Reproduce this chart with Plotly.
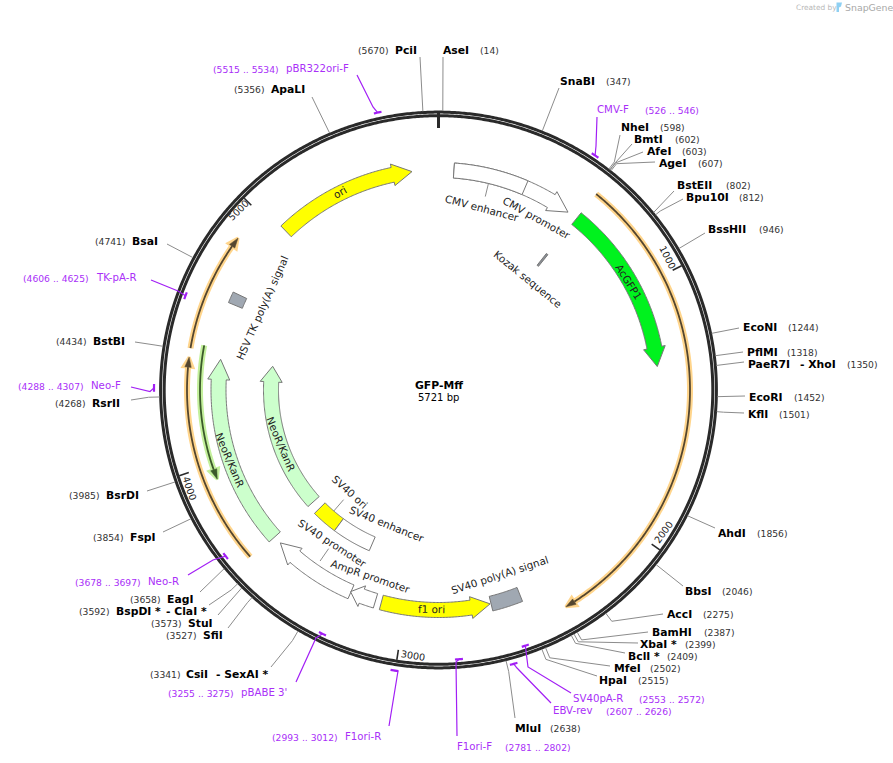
"""Plasmid map of GFP-Mff, drawn from base pair positions."""
import numpy as np
import plotly.graph_objects as go

TOTAL_BP = 5721
plasmid_name = 'GFP-Mff'

# restriction sites
site_names = ['AseI', 'SnaBI', 'NheI', 'BmtI', 'AfeI', 'AgeI', 'BstEII', 'Bpu10I', 'BssHII',
              'EcoNI', 'PflMI', 'PaeR7I', 'EcoRI', 'KflI', 'AhdI', 'BbsI', 'AccI', 'BamHI',
              'XbaI *', 'BclI *', 'MfeI', 'HpaI', 'MluI', 'CsiI', 'SfiI', 'StuI', 'BspDI *',
              'EagI', 'FspI', 'BsrDI', 'RsrII', 'BstBI', 'BsaI', 'ApaLI', 'PciI']
site_positions = [14, 347, 598, 602, 603, 607, 802, 812, 946, 1244, 1318, 1350, 1452, 1501,
                  1856, 2046, 2275, 2387, 2399, 2409, 2502, 2515, 2638, 3341, 3527, 3573,
                  3592, 3658, 3854, 3985, 4268, 4434, 4741, 5356, 5670]
second_names = ['- XhoI', '- ClaI *', '- SexAI *']

# primers
primer_names = ['CMV-F', 'SV40pA-R', 'EBV-rev', 'F1ori-F', 'F1ori-R', "pBABE 3'", 'Neo-R',
                'Neo-F', 'TK-pA-R', 'pBR322ori-F']
primer_starts = [526, 2553, 2607, 2781, 2993, 3255, 3678, 4288, 4606, 5515]
primer_ends = [546, 2572, 2626, 2802, 3012, 3275, 3697, 4307, 4625, 5534]

# features
arrow_names = ['ori', 'CMV', 'AcGFP1', 'NeoR/KanR', 'NeoR/KanR', 'SV40 promoter',
               'AmpR promoter', 'f1 ori']
arrow_starts = [5024, 64, 617, 3625, 3627, 3233, 3125, 3100]
arrow_ends = [5611, 573, 1333, 4418, 4420, 3591, 3235, 2645]
arrow_heads = [5530, 490, 1254, 4334, 4335, 3508, 3185, 2725]
block_names = ['CMV enhancer', 'Kozak sequence', 'SV40 poly(A) signal', 'SV40 ori',
               'SV40 enhancer', 'HSV TK poly(A) signal']
block_starts = [64, 609, 2516, 3440, 3231, 4650]
block_ends = [368, 619, 2641, 3578, 3440, 4696]
orange_starts = [617, 3631, 4443]
orange_ends = [2377, 4410, 4881]
green_starts = [4462]
green_ends = [3942]
scale_ticks = [1000, 2000, 3000, 4000, 5000]

# layout of the picture, all in page pixels
CX, CY = 438.5, 390
site_name_xy = [(443, 50), (560, 81), (621, 127), (634, 139), (647, 151), (659, 163), (677, 185),
                (686, 197), (708, 229), (743, 327), (747, 352), (748, 364), (749, 397), (748, 414),
                (718, 533), (685, 591), (667, 614), (652, 632), (640, 644), (628, 656), (614, 668),
                (599, 680), (515, 728), (186, 674), (203, 635), (188, 623), (116, 611), (167, 599),
                (130, 537), (106, 495), (92, 403), (93, 341), (132, 241), (271, 89), (395, 50)]
site_pos_x = [480, 606, 660, 675, 682, 698, 726, 739, 759, 788, 787, 847, 794, 779, 757, 722, 703,
              704, 685, 667, 650, 638, 550, 150, 166, 151, 79, 130, 93, 69, 55, 56, 95, 234, 358]
site_line_ends = [(443, 57), (559, 88), (620, 135), (632, 144), (643, 152), (655, 162), (674, 191),
                  (683, 199), (705, 233), (739, 328), (743, 352), (744, 362), (745, 396), (744, 413),
                  (715, 528), (683, 586), (663, 614), (648, 632), (638, 643), (625, 653), (610, 666),
                  (597, 676), (515, 718), (271, 667), (228, 628), (218, 615), (209, 605), (200, 592),
                  (163, 532), (147, 491), (131, 400), (135, 342), (167, 244), (312, 97), (420, 57)]
site_elbow_r = [279, 279, 288, 288, 288, 288, 279, 285, 279, 279, 279, 279, 279, 286,
                279, 279, 289, 288, 288, 288, 290, 290, 290, 290, 286, 279, 288, 279,
                279, 279, 290, 287, 279, 279, 279]
second_xy = [(800, 364), (166, 611), (216, 674)]

primer_r = [282, 270, 284, 270, 284, 270, 270, 284.5, 270, 284]
primer_name_xy = [(597, 109), (573, 698), (553, 710), (457, 746), (345, 736), (241, 692),
                  (148, 581), (91, 385), (96, 277), (286, 68.5)]
primer_pos_xy = [(645, 110), (639, 699), (606, 711), (505, 747), (272, 737), (168, 693),
                 (75, 582), (18, 386), (23, 278), (213, 69)]
primer_line_ends = [[(597, 117), (596, 146)], [(571, 693), (528, 667)], [(551, 703), (517, 668)],
                    [(457, 736), (456, 662)], [(389, 726), (398, 671)], [(296, 682), (316, 638)],
                    [(188, 575), (213, 560)], [(131, 387), (150, 391.5)], [(151, 280), (178, 291)],
                    [(357, 75), (373, 107)]]

arrow_r = [220, 220, 220, 220, 167.5, 220, 220, 220]
arrow_fill = ['#ffff00', '#ffffff', '#00f21e', '#ccffcc', '#ccffcc', '#ffffff', '#ffffff', '#ffff00']
block_r = [220, 166.5, 220, 167.5, 167.5, 220]
block_fill = ['#ffffff', '#8a8f96', '#a0a8b2', '#ffff00', '#ffffff', '#a0a8b2']
scale_xy = [(668, 257), (663, 532), (413, 655), (190, 488), (238, 210)]
scale_angle = [63, -54, 9, 72, -45]

feature_labels = [('ori', 340, 192, -30), ('CMV enhancer', 482, 208, 15),
                  ('CMV promoter', 537, 218, 29), ('Kozak sequence', 528, 279, 39),
                  ('AcGFP1', 629, 282, 58), ('NeoR/KanR', 230, 460, 67), ('NeoR/KanR', 281, 444, 67),
                  ('HSV TK poly(A) signal', 262, 308, -66), ('SV40 ori', 350, 492, 42),
                  ('SV40 enhancer', 387, 524, 22), ('SV40 promoter', 332, 543, 33),
                  ('AmpR promoter', 370, 576, 19), ('f1 ori', 431, 609, 1),
                  ('SV40 poly(A) signal', 499, 575, -18)]
feature_connectors = [(216, 212, 199), (3510, 160, 145), (3412, 208, 193)]

RING = '#2a2a2a'
GREY = '#8c8c8c'
EDGE = '#777777'
PURPLE = '#a21ff5'
PURPLE_TEXT = '#a92ff8'
FONT = 'DejaVu Sans'


def at(bp, r):
    """page position of a base pair at radius r"""
    angle = np.asarray(bp) * 2 * np.pi / TOTAL_BP
    return CX + r * np.sin(angle), CY - r * np.cos(angle)


def arc(start, end, r):
    bps = np.linspace(start, end, max(2, int(abs(end - start) / 6) + 2))
    return at(bps, r)


def line_trace(x, y, color, width, fill=None):
    return go.Scatter(x=list(x), y=list(y), mode='lines', hoverinfo='skip',
                      line=dict(color=color, width=width, simplify=False),
                      fill='toself' if fill else None, fillcolor=fill)


def block_outline(start, end, r, half=7.5):
    x1, y1 = arc(start, end, r + half)
    x2, y2 = arc(end, start, r - half)
    return np.r_[x1, x2, x1[0]], np.r_[y1, y2, y1[0]]


def arrow_outline(start, end, head, r, half=7.5, barb=11):
    x1, y1 = arc(start, head, r + half)
    x2, y2 = arc(head, start, r - half)
    bx1, by1 = at(head, r + barb)
    tx, ty = at(end, r)
    bx2, by2 = at(head, r - barb)
    return (np.r_[x1, bx1, tx, bx2, x2, x1[0]], np.r_[y1, by1, ty, by2, y2, y1[0]])


def direction_arc(start, end, r, halo, core, halo_width=6):
    """thin arc with a halo and a small arrow head at the end"""
    step = 10 / (r * 2 * np.pi / TOTAL_BP)
    head = end - step if end > start else end + step
    x, y = arc(start, head, r)
    traces = [line_trace(x, y, halo, halo_width)]
    hx, hy = arrow_outline(head, end, head, r, 0, 5)
    traces.append(line_trace(hx, hy, halo, 3, fill=halo))
    traces.append(line_trace(x, y, core, 1.8))
    hx, hy = arrow_outline(head, end, head, r, 0, 3.2)
    traces.append(line_trace(hx, hy, core, 0.5, fill=core))
    return traces


fig = go.Figure()

# backbone
for ring_r in [277.9, 274.3]:
    x, y = arc(0, TOTAL_BP, ring_r)
    fig.add_trace(line_trace(x, y, RING, 3))

# site leader lines
lx, ly = [], []
for bp, elbow, end in zip(site_positions, site_elbow_r, site_line_ends):
    x0, y0 = at(bp, 279)
    x1, y1 = at(bp, elbow)
    lx += [x0, x1, end[0], None]
    ly += [y0, y1, end[1], None]
fig.add_trace(line_trace(lx, ly, GREY, 1))

# scale
x, y = at(np.array([0, 0]), np.array([277, 262]))
fig.add_trace(line_trace(x, y, RING, 3))
for tick in scale_ticks:
    x, y = at(np.array([tick, tick]), np.array([273, 263]))
    fig.add_trace(line_trace(x, y, RING, 1.6))

# direction arcs
for start, end in zip(orange_starts, orange_ends):
    for tr in direction_arc(start, end, 251.5, '#ffd58c', '#54462f'):
        fig.add_trace(tr)
for start, end in zip(green_starts, green_ends):
    for tr in direction_arc(start, end, 238.5, '#c4f09c', '#3b5a2a'):
        fig.add_trace(tr)

# feature blocks and arrows
for start, end, r, color in zip(block_starts, block_ends, block_r, block_fill):
    x, y = block_outline(start, end, r)
    fig.add_trace(line_trace(x, y, EDGE, 1, fill=color))
for start, end, head, r, color in zip(arrow_starts, arrow_ends, arrow_heads, arrow_r, arrow_fill):
    x, y = arrow_outline(start, end, head, r)
    fig.add_trace(line_trace(x, y, EDGE, 1, fill=color))

# divider between CMV enhancer and promoter, label connectors
x, y = at(np.array([368, 368]), np.array([212.5, 227.5]))
fig.add_trace(line_trace(x, y, EDGE, 1))
for bp, r0, r1 in feature_connectors:
    x, y = at(np.array([bp, bp]), np.array([r0, r1]))
    fig.add_trace(line_trace(x, y, GREY, 1))

# primers
for start, end, r, ends in zip(primer_starts, primer_ends, primer_r, primer_line_ends):
    x, y = arc(start - 3, end + 3, r)
    fig.add_trace(line_trace(x, y, PURPLE, 2.2))
    mx, my = at((start + end) / 2, r)
    fig.add_trace(line_trace([ends[0][0], ends[1][0], mx], [ends[0][1], ends[1][1], my], PURPLE, 1.2))


def text(x, y, label, size, color='#111111', anchor='left', angle=0, bold=False):
    fig.add_annotation(x=x, y=y, text=f'<b>{label}</b>' if bold else label, showarrow=False,
                       xanchor=anchor, yanchor='middle', textangle=angle, borderpad=0, borderwidth=0,
                       font=dict(family=FONT, size=size, color=color))


for name, pos, xy, pos_x in zip(site_names, site_positions, site_name_xy, site_pos_x):
    text(xy[0], xy[1], name, 10.8, color='#000000', bold=True)
    text(pos_x, xy[1] + 0.8, f'({pos})', 9.2, color='#333333')
for name, xy in zip(second_names, second_xy):
    text(xy[0], xy[1], name, 10.8, color='#000000', bold=True)

for name, start, end, nxy, pxy in zip(primer_names, primer_starts, primer_ends,
                                      primer_name_xy, primer_pos_xy):
    text(nxy[0], nxy[1], name, 10.2, color=PURPLE_TEXT)
    text(pxy[0], pxy[1], f'({start} .. {end})', 9.2, color=PURPLE_TEXT)

for label, x, y, angle in feature_labels:
    text(x, y, label, 10.4, color='#222222', anchor='center', angle=angle)
for tick, xy, angle in zip(scale_ticks, scale_xy, scale_angle):
    text(xy[0], xy[1], str(tick), 9.6, color='#222222', anchor='center', angle=angle)

text(CX, 385, plasmid_name, 10.8, color='#000000', anchor='center', bold=True)
text(CX, 397, f'{TOTAL_BP} bp', 10, color='#000000', anchor='center')

# SnapGene mark in the corner
text(796, 7, 'Created by', 7.4, color='#b8b8b8')
text(845, 7, 'SnapGene', 9.4, color='#a8a8a8')
fig.add_shape(type='path', path='M 836.5 2.5 L 842 2.5 L 841 6.5 L 839 7.5 L 839 12 L 836.5 12 Z',
              line=dict(width=0), fillcolor='#8fd0f2')

fig.update_layout(width=893, height=763, margin=dict(l=0, r=0, t=0, b=0), showlegend=False,
                  plot_bgcolor='white', paper_bgcolor='white')
fig.update_xaxes(range=[0, 893], visible=False, fixedrange=True)
fig.update_yaxes(range=[763, 0], visible=False, fixedrange=True)

fig.write_html('out.html', config=dict(displayModeBar=False),
               post_script="document.body.style.margin='0';")
